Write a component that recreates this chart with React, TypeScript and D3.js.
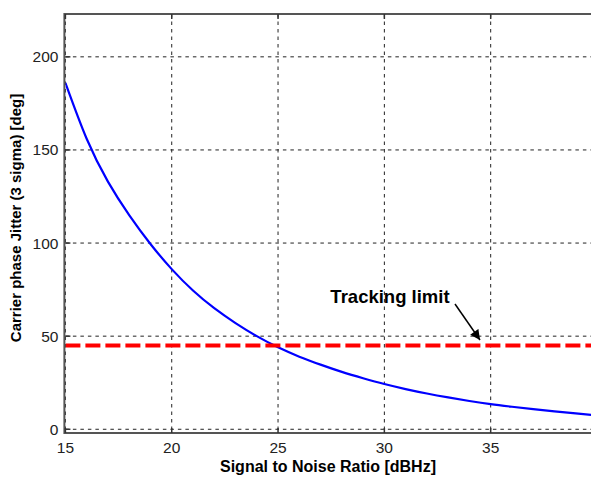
import React from "react";
import * as d3 from "d3";

const snr = [15, 16, 17, 18, 19, 20, 21, 22, 23, 24, 25, 26, 27, 28, 29, 30, 31, 32, 33, 34, 35, 36, 37, 38, 39, 40];
const jitter = [186, 156, 133, 115, 99.5, 86, 74.5, 65, 57, 50, 44, 39, 34.7, 30.8, 27.4, 24.3, 21.6, 19.2, 17.1, 15.2, 13.5, 12.1, 10.8, 9.6, 8.5, 7.5];
const xTicks = [15, 20, 25, 30, 35];
const yTicks = [0, 50, 100, 150, 200];
const trackingLimit = 45;
const xLabel = "Signal to Noise Ratio [dBHz]";
const yLabel = "Carrier phase Jitter (3 sigma) [deg]";
const annotation = "Tracking limit";

const W = 591;
const H = 477;

export default function App() {
  const x = d3.scaleLinear().domain([15, 40]).range([65.4, 597]);
  const y = d3.scaleLinear().domain([-2, 223]).range([433, 14]);
  const line = d3
    .line<number>()
    .x((_, i) => x(snr[i]))
    .y((d) => y(d))
    .curve(d3.curveNatural);
  const left = x.range()[0];
  const right = x.range()[1];
  const top = y.range()[1];
  const bottom = y.range()[0];
  const font = "'Liberation Sans', Arial, sans-serif";
  return (
    <svg
      width={W}
      height={H}
      style={{ position: "absolute", left: 0, top: 0, background: "#fff" }}
    >
      <defs>
        <marker id="ah" viewBox="0 0 10 10" refX="10" refY="5" markerWidth="11" markerHeight="10" orient="auto" markerUnits="userSpaceOnUse">
          <path d="M0,0 L10,5 L0,10 z" fill="#000" />
        </marker>
        <clipPath id="clip">
          <rect x={left} y={top} width={right - left} height={bottom - top} />
        </clipPath>
      </defs>
      <rect x={0} y={0} width={W} height={H} fill="#fff" />
      {/* grid */}
      <g stroke="#222" strokeWidth={1} strokeDasharray="3.5 4">
        {xTicks.map((t) => (
          <line key={"gx" + t} x1={x(t)} x2={x(t)} y1={top} y2={bottom} />
        ))}
        {yTicks.map((t) => (
          <line key={"gy" + t} x1={left} x2={right} y1={y(t)} y2={y(t)} />
        ))}
      </g>
      {/* data */}
      <g clipPath="url(#clip)">
        <path d={line(jitter) || ""} fill="none" stroke="#0000ff" strokeWidth={2.2} />
        <line
          x1={left}
          x2={right}
          y1={y(trackingLimit)}
          y2={y(trackingLimit)}
          stroke="#ff0000"
          strokeWidth={4.2}
          strokeDasharray="15 5"
        />
      </g>
      {/* axes box */}
      <g stroke="#555" strokeWidth={2} fill="none">
        <line x1={left - 1} x2={W} y1={top} y2={top} />
        <line x1={left - 1} x2={W} y1={bottom} y2={bottom} />
        <line x1={left - 1} x2={left - 1} y1={top - 1} y2={bottom + 1} />
      </g>
      {/* ticks */}
      <g stroke="#333" strokeWidth={1.5}>
        {xTicks.map((t) => (
          <g key={"tx" + t}>
            <line x1={x(t)} x2={x(t)} y1={bottom} y2={bottom - 5} />
            <line x1={x(t)} x2={x(t)} y1={top} y2={top + 5} />
          </g>
        ))}
        {yTicks.map((t) => (
          <line key={"ty" + t} x1={left} x2={left + 5} y1={y(t)} y2={y(t)} />
        ))}
      </g>
      {/* tick labels */}
      <g fontFamily={font} fontSize={15.5} fill="#222">
        {xTicks.map((t) => (
          <text key={"lx" + t} x={x(t)} y={bottom + 20} textAnchor="middle">
            {t}
          </text>
        ))}
        {yTicks.map((t) => (
          <text key={"ly" + t} x={left - 7} y={y(t) + 5.5} textAnchor="end">
            {t}
          </text>
        ))}
      </g>
      {/* axis labels */}
      <text x={328} y={472} textAnchor="middle" fontFamily={font} fontWeight="bold" fontSize={16} fill="#000">
        {xLabel}
      </text>
      <text
        transform={`translate(21,218) rotate(-90)`}
        textAnchor="middle"
        fontFamily={font}
        fontWeight="bold"
        fontSize={15}
        fill="#000"
      >
        {yLabel}
      </text>
      {/* annotation */}
      <text x={390} y={303} textAnchor="middle" fontFamily={font} fontWeight="bold" fontSize={18.5} fill="#000">
        {annotation}
      </text>
      <line x1={455} y1={304} x2={480} y2={340} stroke="#000" strokeWidth={1.5} markerEnd="url(#ah)" />
    </svg>
  );
}
